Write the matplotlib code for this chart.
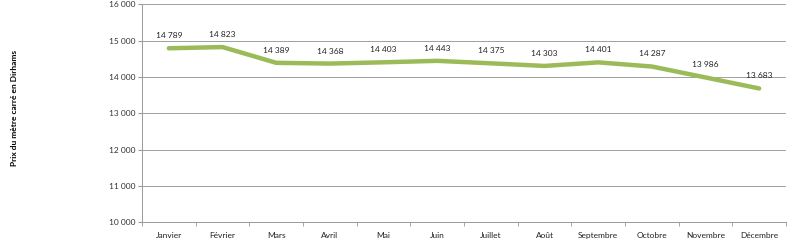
import matplotlib
matplotlib.use("Agg")
from matplotlib import pyplot as plt

mois = ["Janvier", "Février", "Mars", "Avril", "Mai", "Juin", "Juillet",
        "Août", "Septembre", "Octobre", "Novembre", "Décembre"]
prix = [14789, 14823, 14389, 14368, 14403, 14443, 14375, 14303, 14401, 14287, 13986, 13683]
yticks = [10000, 11000, 12000, 13000, 14000, 15000, 16000]

def fmt(v):
    return "{:,}".format(v).replace(",", " ")

plt.rcParams["font.family"] = ["Lato", "DejaVu Sans"]

fig = plt.figure(figsize=(8, 2.52), dpi=100)
ax = fig.add_axes([0.1775, 0.118, 0.805, 0.865])

x = list(range(len(mois)))
ax.plot(x, prix, color="#9BBB59", lw=3.2, solid_capstyle="round", solid_joinstyle="round", zorder=3)
for xi, v in zip(x, prix):
    ax.annotate(fmt(v), (xi, v), xytext=(0, 6.5), textcoords="offset points",
                ha="center", va="bottom", fontsize=6, color="#222222")

ax.set_xlim(-0.5, len(mois) - 0.5)
ax.set_ylim(10000, 16000)
ax.set_yticks(yticks)
ax.set_yticklabels([fmt(v) for v in yticks], fontsize=6, color="#333333")
ax.set_xticks(x)
ax.set_xticklabels(mois, fontsize=6, color="#222222")
ax.set_xticks([i - 0.5 for i in range(len(mois) + 1)], minor=True)
ax.tick_params(axis="x", which="major", length=0, pad=7)
ax.tick_params(axis="x", which="minor", length=3, color="#999999")
ax.tick_params(axis="y", length=3, color="#999999", pad=2)
ax.grid(axis="y", color="#A0A0A0", lw=0.7)
ax.set_axisbelow(True)
for s in ["top", "right"]:
    ax.spines[s].set_visible(False)
for s in ["left", "bottom"]:
    ax.spines[s].set_color("#999999")
    ax.spines[s].set_linewidth(0.7)

fig.text(0.018, 0.57, "Prix du mètre carré en Dirhams", rotation=90, ha="center", va="center",
         fontsize=6, fontweight="bold")

fig.savefig("out.png", dpi=100)
